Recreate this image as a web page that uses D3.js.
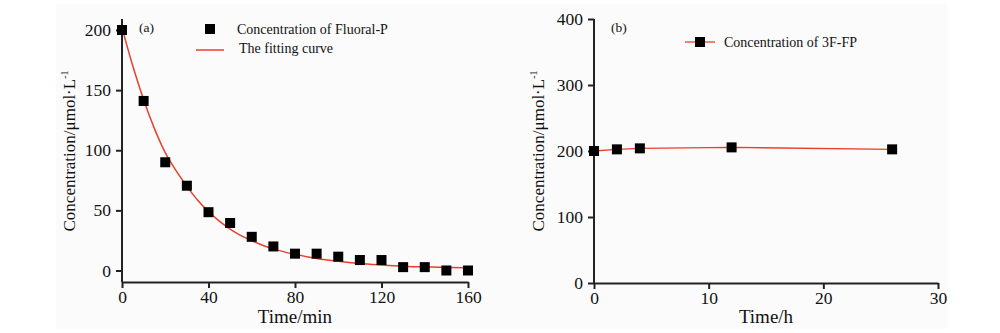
<!DOCTYPE html>
<html><head><meta charset="utf-8">
<script src="https://cdn.jsdelivr.net/npm/d3@7"></script>
<style>body{margin:0;background:#fff}svg{display:block}text{font-family:"Liberation Serif",serif;fill:#111}</style>
</head><body><svg id="c" width="1000" height="333" font-family="Liberation Serif"></svg>
<script>
// Panel (a)
const timeA = [0,10,20,30,40,50,60,70,80,90,100,110,120,130,140,150,160];
const concA = [200,141,90,70.5,48.5,39.5,28,20,14,14,11.5,8.7,8.7,2.8,2.8,0,0];
const fitT = [0,5,10,15,20,25,30,35,40,45,50,55,60,65,70,75,80,90,100,110,120,130,140,150,160];
const fitC = [202,170,142,118,98,83,70,58.5,49,41,34.5,29,24.8,21,18,15.5,13.5,10,7.6,5.8,4.6,3.6,3,2.5,2.2];
const xTicksA = [0,40,80,120,160];
const yTicksA = [0,50,100,150,200];
// Panel (b)
const timeB = [0,2,4,12,26];
const concB = [200,202.5,204,205.5,202.5];
const xTicksB = [0,10,20,30];
const yTicksB = [0,100,200,300,400];
const yTitle = "Concentration/μmol·L";
const SERIF = "Liberation Serif";

const svg = d3.select("#c");
svg.append("rect").attr("x",56).attr("y",4).attr("width",891).attr("height",325).attr("fill","#fbfbfb");

function axes(g, x, y, xt, yt, xAxisY, xTitle, titleX, yTitleX, yTop){
  const ya = d3.axisLeft(y).tickValues(yt).tickSize(6).tickSizeOuter(0).tickPadding(5);
  const gy = g.append("g").attr("transform",`translate(${x.range()[0]},0)`).call(ya);
  gy.select(".domain").attr("d",`M0,${yTop}V${xAxisY}`);
  const xa = d3.axisBottom(x).tickValues(xt).tickSize(6).tickSizeOuter(0).tickPadding(3);
  const gx = g.append("g").attr("transform",`translate(0,${xAxisY})`).call(xa);
  [gx,gy].forEach(a=>{a.attr("font-family",SERIF).attr("font-size",17.5);
    a.selectAll("path,line").attr("stroke","#222").attr("stroke-width",2);
    a.selectAll("text").attr("fill","#111");});
  g.append("text").attr("x",titleX).attr("y",323).attr("text-anchor","middle").attr("font-family",SERIF).attr("font-size",19).text(xTitle);
  const t = g.append("text").attr("transform",`translate(${yTitleX},151) rotate(-90)`).attr("text-anchor","middle").attr("font-family",SERIF).attr("font-size",17);
  t.append("tspan").text(yTitle);
  t.append("tspan").attr("dy",-7).attr("font-size",10).text("-1");
}

// Panel a
const ga = svg.append("g");
const xA = d3.scaleLinear().domain([0,160]).range([122,468]);
const yA = d3.scaleLinear().domain([0,200]).range([270.5,30]);
axes(ga,xA,yA,xTicksA,yTicksA,282,"Time/min",295,75,19);
ga.append("path").datum(fitT.map((t,i)=>[t,fitC[i]]))
  .attr("d",d3.line().x(d=>xA(d[0])).y(d=>yA(d[1])).curve(d3.curveMonotoneX))
  .attr("fill","none").attr("stroke","#e8402a").attr("stroke-width",1.5);
ga.selectAll("rect.pt").data(timeA).join("rect").attr("class","pt")
  .attr("x",(d)=>xA(d)-5).attr("y",(d,i)=>yA(concA[i])-5).attr("width",10).attr("height",10).attr("fill","#000");
ga.append("text").attr("x",139).attr("y",32).attr("font-size",13.5).text("(a)");
ga.append("rect").attr("x",205).attr("y",24).attr("width",10).attr("height",10).attr("fill","#000");
ga.append("text").attr("x",237).attr("y",34).attr("font-size",14).text("Concentration of Fluoral-P");
ga.append("line").attr("x1",196).attr("x2",224).attr("y1",50).attr("y2",50).attr("stroke","#e8402a").attr("stroke-width",1.5);
ga.append("text").attr("x",239).attr("y",53).attr("font-size",14).text("The fitting curve");

// Panel b
const gb = svg.append("g");
const xB = d3.scaleLinear().domain([0,30]).range([594,938]);
const yB = d3.scaleLinear().domain([0,400]).range([283,19]);
axes(gb,xB,yB,xTicksB,yTicksB,283,"Time/h",766,544,19);
gb.append("path").datum(timeB.map((t,i)=>[t,concB[i]]))
  .attr("d",d3.line().x(d=>xB(d[0])).y(d=>yB(d[1])))
  .attr("fill","none").attr("stroke","#e8402a").attr("stroke-width",1.3);
gb.selectAll("rect.pt").data(timeB).join("rect").attr("class","pt")
  .attr("x",(d)=>xB(d)-5).attr("y",(d,i)=>yB(concB[i])-5).attr("width",10).attr("height",10).attr("fill","#000");
gb.append("text").attr("x",611).attr("y",32).attr("font-size",13.5).text("(b)");
gb.append("line").attr("x1",685).attr("x2",715).attr("y1",42).attr("y2",42).attr("stroke","#e8402a").attr("stroke-width",1.3);
gb.append("rect").attr("x",695).attr("y",37).attr("width",10).attr("height",10).attr("fill","#000");
gb.append("text").attr("x",724).attr("y",47).attr("font-size",14).text("Concentration of 3F-FP");
</script></body></html>
